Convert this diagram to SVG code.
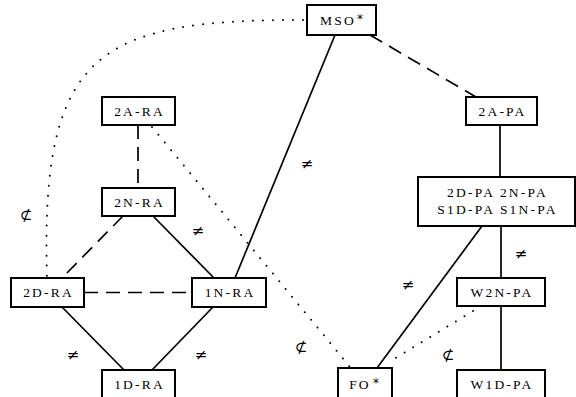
<svg xmlns="http://www.w3.org/2000/svg" width="576" height="397" viewBox="0 0 576 397">
<style>
.box{fill:#fff;stroke:#000;stroke-width:2}
.lbl{font-family:"Liberation Serif",serif;font-size:13.5px;letter-spacing:2.2px;text-anchor:middle;fill:#000}
.ast{font-family:"DejaVu Sans",sans-serif;font-size:12px;fill:#000}
.sym{font-family:"DejaVu Serif","Liberation Serif",serif;font-size:15px;text-anchor:middle;fill:#000}
.solid{stroke:#000;stroke-width:1.7;fill:none}
.dash{stroke:#000;stroke-width:1.7;fill:none;stroke-dasharray:14 8}
.dot{stroke:#000;stroke-width:2;fill:none;stroke-dasharray:0 10;stroke-linecap:round}
</style>
<rect width="576" height="397" fill="#fff"/>
<g id="connectors">
<line class="solid" x1="335" y1="35" x2="235" y2="278"/>
<line class="solid" x1="500" y1="125" x2="500" y2="177"/>
<line class="solid" x1="482" y1="226" x2="377" y2="368"/>
<line class="solid" x1="501" y1="226" x2="501" y2="278"/>
<line class="solid" x1="501" y1="306" x2="501" y2="370"/>
<line class="solid" x1="153" y1="216" x2="214" y2="278"/>
<line class="solid" x1="62" y1="307" x2="124" y2="370"/>
<line class="solid" x1="213" y1="307" x2="152" y2="370"/>
<line class="dash" x1="370" y1="35" x2="476" y2="97"/>
<line class="dash" x1="138" y1="125" x2="138" y2="188"/>
<line class="dash" x1="123" y1="216" x2="62" y2="278"/>
<line class="dash" x1="84" y1="292.5" x2="192" y2="292.5"/>
<path class="dot" d="M303,20 C100,20 40,50 47,277"/>
<line class="dot" x1="152" y1="127" x2="350" y2="367"/>
<line class="dot" x1="473" y1="311" x2="389" y2="362"/>
<text class="sym" x="307" y="169">≠</text>
<text class="sym" x="26" y="220">⊄</text>
<text class="sym" x="198" y="236">≠</text>
<text class="sym" x="73" y="360">≠</text>
<text class="sym" x="201" y="360">≠</text>
<text class="sym" x="408" y="290">≠</text>
<text class="sym" x="521" y="259">≠</text>
<text class="sym" x="301" y="352">⊄</text>
<text class="sym" x="448" y="360">⊄</text>
</g>
<g id="MSO"><rect class="box" x="307" y="5" width="69" height="30"/><text class="lbl" x="338" y="25">MSO</text><text class="ast" x="357" y="23">*</text></g>
<g id="A2PA"><rect class="box" x="466" y="97" width="71" height="28"/><text class="lbl" x="502.5" y="116">2A-PA</text></g>
<g id="A2RA"><rect class="box" x="102" y="97" width="73" height="28"/><text class="lbl" x="139.5" y="116">2A-RA</text></g>
<g id="N2RA"><rect class="box" x="102" y="188" width="73" height="28"/><text class="lbl" x="139.5" y="207">2N-RA</text></g>
<g id="D2RA"><rect class="box" x="11" y="278" width="73" height="29"/><text class="lbl" x="48.5" y="297">2D-RA</text></g>
<g id="N1RA"><rect class="box" x="192" y="278" width="74" height="29"/><text class="lbl" x="230" y="297">1N-RA</text></g>
<g id="D1RA"><rect class="box" x="102" y="370" width="73" height="30"/><text class="lbl" x="139.5" y="389">1D-RA</text></g>
<g id="PA2"><rect class="box" x="418" y="177" width="157" height="49"/><text class="lbl" x="497.5" y="197">2D-PA 2N-PA</text><text class="lbl" x="497.5" y="214">S1D-PA S1N-PA</text></g>
<g id="W2NPA"><rect class="box" x="457" y="278" width="88" height="28"/><text class="lbl" x="502" y="297">W2N-PA</text></g>
<g id="FO"><rect class="box" x="338" y="368" width="54" height="32"/><text class="lbl" x="360" y="389">FO</text><text class="ast" x="373" y="387">*</text></g>
<g id="W1DPA"><rect class="box" x="457" y="370" width="88" height="30"/><text class="lbl" x="502" y="389">W1D-PA</text></g>
</svg>
